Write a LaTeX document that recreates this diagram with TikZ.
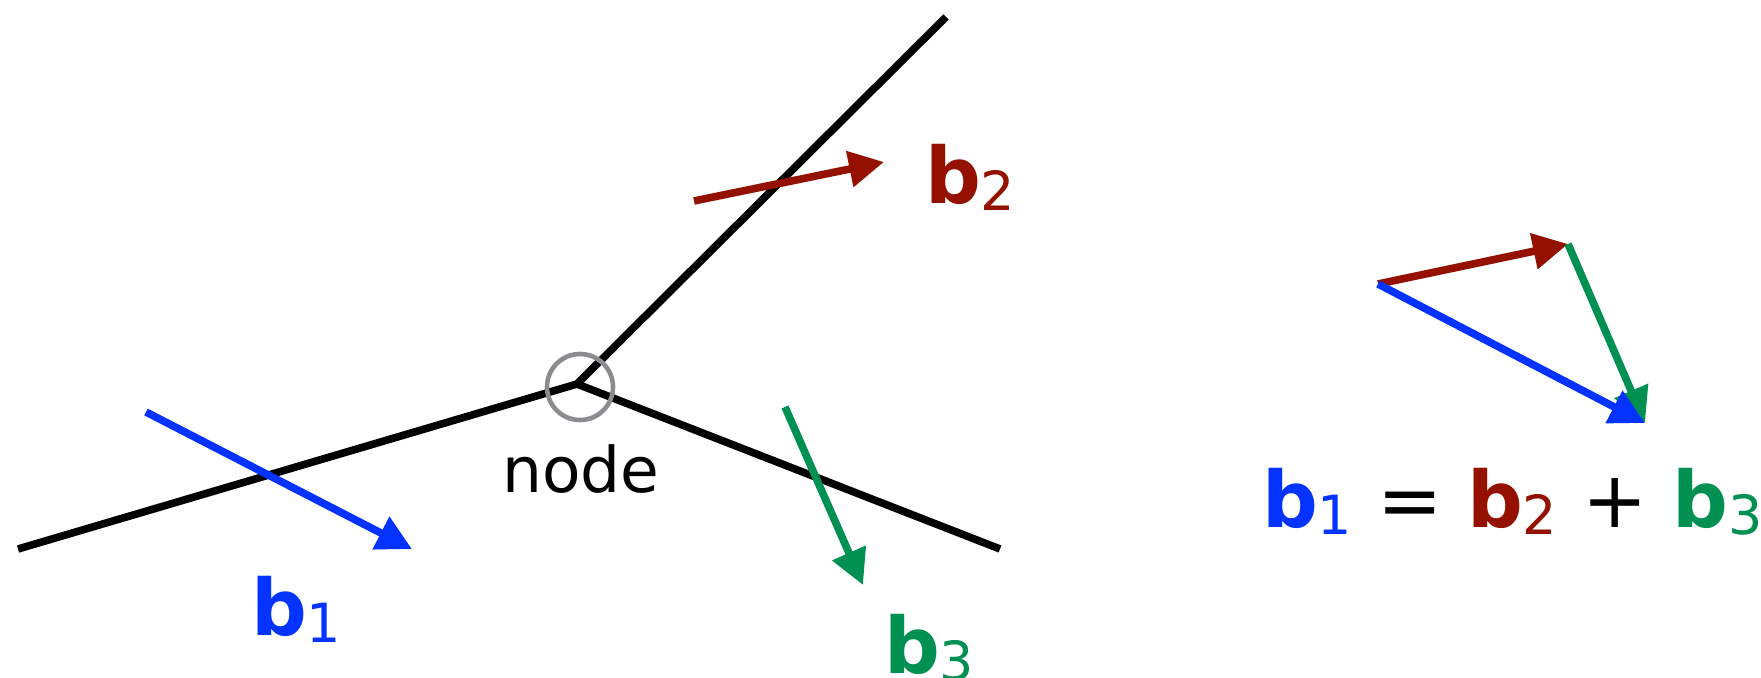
\documentclass[tikz,border=0pt]{standalone}
\usepackage{fontspec}
\setmainfont{DejaVu Sans}
\usetikzlibrary{arrows.meta}
\definecolor{vblue}{HTML}{0433FF}
\definecolor{vred}{HTML}{941100}
\definecolor{vgreen}{HTML}{009051}
\definecolor{vgray}{HTML}{8A8C90}
\newcommand{\bvec}[1]{{\fontsize{39}{39}\selectfont\bfseries b}{\fontsize{27}{27}\selectfont\raisebox{-3.5pt}{#1}}}
\tikzset{
  bar/.style={line width=3.8pt, black},
  vec/.style={line width=3.8pt, -{Triangle[length=17.5pt,width=17.5pt]}},
  lbl/.style={anchor=base west, inner sep=0pt, outer sep=0pt},
}
\begin{document}
\begin{tikzpicture}[x=0.5pt, y=-0.5pt]
\useasboundingbox (0,0) rectangle (1761,678);
% truss members
\coordinate (J) at (577,384);
\coordinate (L) at (18,549);
\coordinate (U) at (946,17);
\coordinate (R) at (1000,549);
\draw[bar] (L) -- (J) -- (U);
\draw[bar] (J) -- (R);
\node[circle, draw=vgray, line width=2.3pt, minimum size=33pt, inner sep=0pt] (C) at (580,387) {};
\node[anchor=base, inner sep=0pt] (nodelbl) at (581,492) {\fontsize{31.5}{31.5}\selectfont node};
% force vectors on the members
\coordinate (b1s) at (146,412); \coordinate (b1e) at (412,549);
\coordinate (b2s) at (694,201); \coordinate (b2e) at (884,162);
\coordinate (b3s) at (785,407); \coordinate (b3e) at (863,585);
\draw[vec, vblue] (b1s) -- (b1e);
\draw[vec, vred] (b2s) -- (b2e);
\draw[vec, vgreen] (b3s) -- (b3e);
\node[lbl, text=vblue] (l1) at (251,635) {\bvec{1}};
\node[lbl, text=vred] (l2) at (925,204) {\bvec{2}};
\node[lbl, text=vgreen] (l3) at (884,673) {\bvec{3}};
% vector triangle
\coordinate (T0) at (1378,284);
\coordinate (T1) at (1568,244);
\coordinate (T2) at (1645,423);
\draw[vec, vred] (T0) -- (T1);
\draw[vec, vgreen] (T1) -- (T2);
\draw[vec, vblue] (T0) -- (T2);
\node[lbl] (eq) at (1262,527) {\fontsize{39}{39}\selectfont\textcolor{vblue}{\bvec{1}} = \textcolor{vred}{\bvec{2}} + \textcolor{vgreen}{\bvec{3}}};
\end{tikzpicture}
\end{document}
